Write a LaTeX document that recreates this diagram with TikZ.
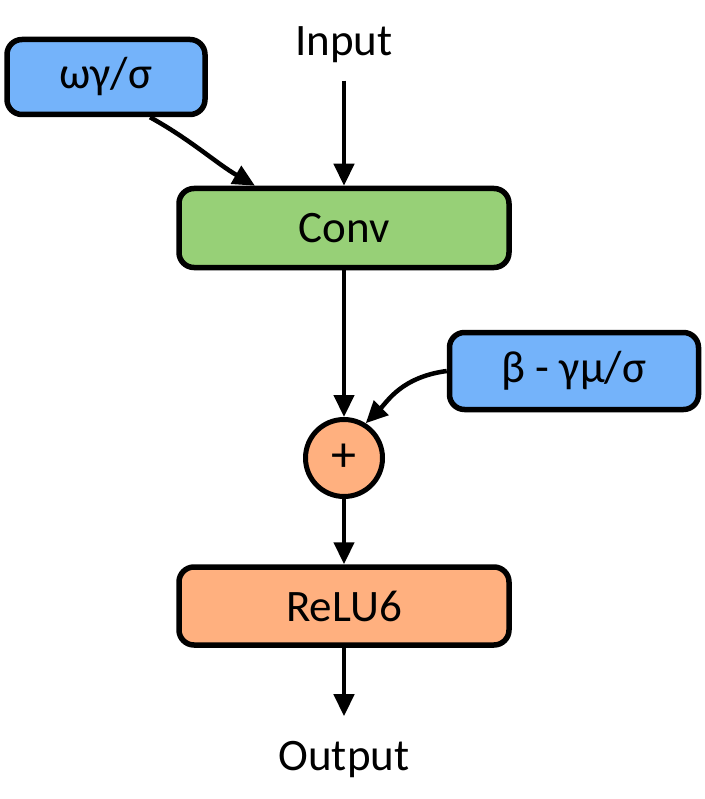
\documentclass[tikz,border=0pt]{standalone}
\usepackage{fontspec}
\setmainfont{Carlito}
\usetikzlibrary{arrows.meta}
\definecolor{parcol}{HTML}{74B3FA}
\definecolor{convcol}{HTML}{97D077}
\definecolor{actcol}{HTML}{FFB07F}

\begin{document}
\begin{tikzpicture}[x=1pt, y=-1pt,
  box/.style={draw, line width=5.5pt, rounded corners=15pt, inner sep=0pt,
    font=\fontsize{45}{54}\selectfont},
  flow/.style={line width=4.5pt, -{Triangle[length=22pt,width=20pt]}}]
  \def\cx{344}
  \useasboundingbox (0,0) rectangle (704,799);

  % inputs / outputs
  \node[font=\fontsize{45}{54}\selectfont] (in) at (\cx,45) {Input};
  \node[font=\fontsize{45}{54}\selectfont] (out) at (\cx,760) {Output};

  % blocks
  \node[box, fill=parcol, minimum width=198pt, minimum height=75pt] (wg) at (106,77) {ωγ/σ};
  \node[box, fill=convcol, minimum width=330pt, minimum height=79pt] (conv) at (\cx,228) {Conv};
  \node[box, fill=parcol, minimum width=249pt, minimum height=77pt] (bm) at (574,371) {β - γμ/σ};
  \node[draw, circle, line width=5pt, fill=actcol, minimum size=77pt, inner sep=0pt,
    font=\fontsize{50}{60}\selectfont] (plus) at (\cx,458) {+};
  \node[box, fill=actcol, minimum width=330pt, minimum height=78pt] (relu) at (\cx,606) {ReLU6};

  % connectors
  \draw[flow, shorten <=14pt] (in) -- (conv);
  \draw[flow] ([xshift=44pt]wg.south) .. controls +(40,22) and +(-38,-22) .. ([xshift=-89pt]conv.north);
  \draw[flow] (conv) -- (plus);
  \draw[flow] (bm.west) .. controls +(-45,6) and +(22,-22) .. (plus.58);
  \draw[flow] (plus) -- (relu);
  \draw[flow, shorten >=22pt] (relu) -- (out);
\end{tikzpicture}
\end{document}
